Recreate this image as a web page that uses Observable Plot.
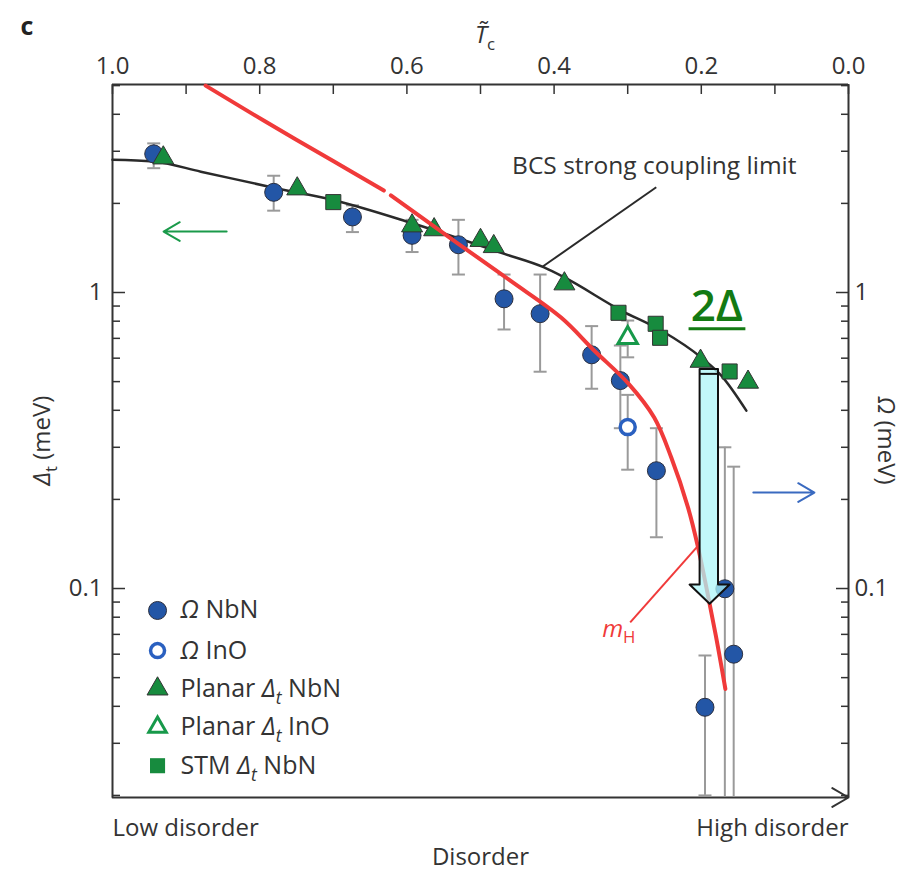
<!DOCTYPE html>
<html><head><meta charset="utf-8">
<script src="https://cdn.jsdelivr.net/npm/d3@7"></script>
<script src="https://cdn.jsdelivr.net/npm/@observablehq/plot@0.6"></script>
<style>
html,body{margin:0;padding:0;background:#fff;}
</style></head><body><div id="chart"></div>
<script>
// ---------- data (x = normalised Tc, y = energy in meV) ----------
const omegaNbN_tc  = [0.944, 0.781, 0.674, 0.593, 0.530, 0.468, 0.419, 0.349, 0.310, 0.261, 0.195, 0.168, 0.156];
const omegaNbN_meV = [2.94, 2.18, 1.80, 1.56, 1.45, 0.952, 0.848, 0.616, 0.504, 0.250, 0.0397, 0.0998, 0.0600];
const omegaNbN_lo  = [2.63, 1.89, 1.60, 1.37, 1.15, 0.75, 0.54, 0.473, 0.348, 0.149, 0.0200, 0.0197, 0.0197];
const omegaNbN_hi  = [3.19, 2.48, 1.97, 1.76, 1.76, 1.15, 1.15, 0.77, 0.662, 0.348, 0.0594, 0.300, 0.258];

const omegaInO_tc  = [0.300];
const omegaInO_meV = [0.351];
const omegaInO_lo  = [0.252];
const omegaInO_hi  = [0.451];

const planarNbN_tc  = [0.931, 0.749, 0.593, 0.563, 0.500, 0.482, 0.386, 0.201, 0.1365];
const planarNbN_meV = [2.85, 2.24, 1.68, 1.63, 1.50, 1.43, 1.07, 0.586, 0.498];

const planarInO_tc  = [0.300];
const planarInO_meV = [0.703];
const planarInO_lo  = [0.604];
const planarInO_hi  = [0.804];

const stmNbN_tc  = [0.700, 0.3125, 0.262, 0.256, 0.1615];
const stmNbN_meV = [2.02, 0.854, 0.784, 0.703, 0.541];

const bcs_tc  = [1.0, 0.944, 0.880, 0.781, 0.699, 0.5946, 0.4676, 0.4136, 0.386, 0.3088, 0.2544, 0.200, 0.1728, 0.1388];
const bcs_meV = [2.81, 2.77, 2.56, 2.26, 2.05, 1.72, 1.35, 1.215, 1.124, 0.869, 0.744, 0.603, 0.524, 0.399];

const mH_tc  = [0.8735, 0.7946, 0.699, 0.6313, 0.6218, 0.5306, 0.4585, 0.3905, 0.3456, 0.2993, 0.264, 0.2408, 0.2181, 0.2045, 0.1887, 0.1773, 0.1673];
const mH_meV = [5.0, 3.81, 2.77, 2.21, 2.13, 1.464, 1.092, 0.823, 0.637, 0.493, 0.378, 0.277, 0.188, 0.138, 0.0888, 0.0633, 0.0458];
const mH_seg = [0, 0, 0, 0, 1, 1, 1, 1, 1, 1, 1, 1, 1, 1, 1, 1, 1];

// axes
const tcDomain = [1, 0];
const meVDomain = [0.01968, 5.043];
const tcTickLabels = [0, 0.2, 0.4, 0.6, 0.8, 1.0];
const tcTicks = [0, 0.1, 0.2, 0.3, 0.4, 0.5, 0.6, 0.7, 0.8, 0.9, 1.0];
const meVMajor = [0.1, 1];
const meVMinor = [0.02, 0.03, 0.04, 0.05, 0.06, 0.07, 0.08, 0.09, 0.2, 0.3, 0.4, 0.5, 0.6, 0.7, 0.8, 0.9, 2, 3, 4, 5];

// legend
const legendLabels = ["*Ω* NbN", "*Ω* InO", "Planar *Δ*_[t] NbN", "Planar *Δ*_[t] InO", "STM *Δ*_[t] NbN"];
const legend_tc = 0.9388, legendText_tc = 0.9075;
const legend_meV = [0.0843, 0.0617, 0.0458, 0.0340, 0.0252];

// annotations (in data units)
const arrowPoly_tc  = [0.2023, 0.1773, 0.1773, 0.1615, 0.1887, 0.2159, 0.2023, 0.2023];
const arrowPoly_meV = [0.552, 0.552, 0.1031, 0.1031, 0.0888, 0.1031, 0.1031, 0.552];

// ---------- build tables ----------
const rows = (t, v, lo, hi) => t.map((d, i) => ({t: d, v: v[i], lo: lo ? lo[i] : null, hi: hi ? hi[i] : null}));
const omegaNbN = rows(omegaNbN_tc, omegaNbN_meV, omegaNbN_lo, omegaNbN_hi);
const omegaInO = rows(omegaInO_tc, omegaInO_meV, omegaInO_lo, omegaInO_hi);
const planarNbN = rows(planarNbN_tc, planarNbN_meV);
const planarInO = rows(planarInO_tc, planarInO_meV, planarInO_lo, planarInO_hi);
const stmNbN = rows(stmNbN_tc, stmNbN_meV);
const bcs = rows(bcs_tc, bcs_meV);
const mH = mH_tc.map((d, i) => ({t: d, v: mH_meV[i], seg: mH_seg[i]}));
const errs = [...omegaNbN, ...omegaInO, ...planarInO];
const capsHi = errs;
const capsLo = errs.filter(d => d.lo > 0.0198);
const arrowPoly = arrowPoly_tc.map((d, i) => ({t: d, v: arrowPoly_meV[i]}));
const legendRows = legendLabels.map((s, i) => ({label: s, v: legend_meV[i], k: i}));

const BLUE = "#2356a6", GREEN = "#178b3e", RED = "#f03a3a", INK = "#333", GREY = "#9a9a9a";
const FS = 24;
const capSymbol = {draw(ctx, size) { const w = Math.sqrt(size / Math.PI); ctx.moveTo(-w, 0); ctx.lineTo(w, 0); }};
const none = () => "";

const chart = Plot.plot({
  width: 904, height: 872,
  marginLeft: 112, marginRight: 56, marginTop: 84, marginBottom: 75,
  x: {domain: tcDomain, axis: null},
  y: {type: "log", domain: meVDomain, axis: null},
  style: {fontFamily: "'Open Sans', sans-serif", fontSize: FS + "px", color: INK, background: "#fff", overflow: "visible"},
  marks: [
    // frame
    Plot.ruleY([meVDomain[1]], {stroke: INK, strokeWidth: 2}),
    Plot.ruleX(tcDomain, {stroke: INK, strokeWidth: 2}),
    Plot.arrow([{a: tcDomain[0], b: tcDomain[1], y: meVDomain[0]}], {x1: "a", x2: "b", y1: "y", y2: "y", stroke: INK, strokeWidth: 2, headLength: 14}),
    // ticks (marks only)
    Plot.axisX(tcTicks, {anchor: "top", tickSize: -9, tickFormat: none, label: null, stroke: INK, strokeWidth: 1.5}),
    Plot.axisY(meVMajor, {anchor: "left", tickSize: -13, tickFormat: none, label: null, stroke: INK, strokeWidth: 1.5}),
    Plot.axisY(meVMinor, {anchor: "left", tickSize: -8, tickFormat: none, label: null, stroke: INK, strokeWidth: 1.5}),
    Plot.axisY(meVMajor, {anchor: "right", tickSize: -13, tickFormat: none, label: null, stroke: INK, strokeWidth: 1.5}),
    Plot.axisY(meVMinor, {anchor: "right", tickSize: -8, tickFormat: none, label: null, stroke: INK, strokeWidth: 1.5}),
    // tick labels
    Plot.axisX(tcTickLabels, {anchor: "top", tickSize: 0, tickPadding: 11, tickFormat: d => d.toFixed(1), label: null, fontSize: FS, fill: INK}),
    Plot.axisY(meVMajor, {anchor: "left", tickSize: 0, tickPadding: 10, tickFormat: d => String(d), label: null, fontSize: FS, fill: INK}),
    Plot.axisY(meVMajor, {anchor: "right", tickSize: 0, tickPadding: 6, tickFormat: d => String(d), label: null, fontSize: FS, fill: INK}),
    // error bars
    Plot.ruleX(errs, {x: "t", y1: "lo", y2: "hi", stroke: GREY, strokeWidth: 2}),
    Plot.dot(capsHi, {x: "t", y: "hi", symbol: capSymbol, r: 6.5, stroke: GREY, strokeWidth: 2}),
    Plot.dot(capsLo, {x: "t", y: "lo", symbol: capSymbol, r: 6.5, stroke: GREY, strokeWidth: 2}),
    // BCS line + leader
    Plot.line(bcs, {x: "t", y: "v", curve: "monotone-x", stroke: "#2a2a2a", strokeWidth: 2.5}),
    Plot.link([{t1: 0.4154, v1: 1.224, t2: 0.2612, v2: 2.268}], {x1: "t1", y1: "v1", x2: "t2", y2: "v2", stroke: "#2a2a2a", strokeWidth: 2}),
    Plot.text(["BCS strong coupling limit"], {x: 0.4571, y: 2.52, textAnchor: "start", lineAnchor: "bottom", fontSize: 24.5, fill: INK}),
    // markers
    Plot.dot(omegaNbN, {x: "t", y: "v", r: 9, fill: BLUE, stroke: "#2b2f3f", strokeWidth: 1}),
    Plot.dot(omegaInO, {x: "t", y: "v", r: 7.5, fill: "#fff", stroke: "#2a60c0", strokeWidth: 3.5}),
    Plot.dot(planarNbN, {x: "t", y: "v", symbol: "triangle", r: 7.8, fill: GREEN, stroke: INK, strokeWidth: 1}),
    Plot.dot(planarInO, {x: "t", y: "v", symbol: "triangle", r: 7.2, fill: "#fff", stroke: "#17994a", strokeWidth: 3}),
    Plot.dot(stmNbN, {x: "t", y: "v", symbol: "square", r: 8.5, fill: GREEN, stroke: INK, strokeWidth: 1}),
    // m_H curve + leader
    Plot.line(mH, {x: "t", y: "v", z: "seg", curve: "catmull-rom", stroke: RED, strokeWidth: 4}),
    Plot.link([{t1: 0.2966, v1: 0.0769, t2: 0.2054, v2: 0.1386}], {x1: "t1", y1: "v1", x2: "t2", y2: "v2", stroke: RED, strokeWidth: 2}),
    Plot.text(["*m*_{H}"], {x: 0.3347, y: 0.0688, textAnchor: "start", lineAnchor: "bottom", fontSize: 24, fill: RED}),
    // direction arrows
    Plot.arrow([{a: 0.8449, b: 0.9306, y: 1.607}], {x1: "a", x2: "b", y1: "y", y2: "y", stroke: "#1a9a4a", strokeWidth: 2, headLength: 14}),
    Plot.arrow([{a: 0.1293, b: 0.0463, y: 0.211}], {x1: "a", x2: "b", y1: "y", y2: "y", stroke: "#3a6ac0", strokeWidth: 2, headLength: 14}),
    // legend
    Plot.dot(legendRows.filter(d => d.k === 0), {x: () => legend_tc, y: "v", r: 9, fill: BLUE, stroke: "#2b2f3f", strokeWidth: 1}),
    Plot.dot(legendRows.filter(d => d.k === 1), {x: () => legend_tc, y: "v", r: 7, fill: "#fff", stroke: "#2a60c0", strokeWidth: 3.5}),
    Plot.dot(legendRows.filter(d => d.k === 2), {x: () => legend_tc, y: "v", symbol: "triangle", r: 7.8, fill: GREEN, stroke: INK, strokeWidth: 1}),
    Plot.dot(legendRows.filter(d => d.k === 3), {x: () => legend_tc, y: "v", symbol: "triangle", r: 6.5, fill: "#fff", stroke: "#17994a", strokeWidth: 3}),
    Plot.dot(legendRows.filter(d => d.k === 4), {x: () => legend_tc, y: "v", symbol: "square", r: 8.5, fill: GREEN}),
    Plot.text(legendRows, {x: () => legendText_tc, y: "v", text: "label", textAnchor: "start", fontSize: 25, fill: INK}),
    // overlay 2Δ arrow annotation
    Plot.line(arrowPoly, {x: "t", y: "v", fill: "#aef6f8", fillOpacity: 0.75, stroke: "#111", strokeWidth: 2}),
    Plot.link([{t1: 0.2023, t2: 0.1773, v: 0.531}], {x1: "t1", x2: "t2", y1: "v", y2: "v", stroke: "#111", strokeWidth: 2}),
    Plot.text(["2Δ"], {x: 0.1789, y: 0.804, lineAnchor: "bottom", fontSize: 44, fontWeight: 600, fill: "#137a13"}),
    Plot.link([{t1: 0.2173, t2: 0.1401, v: 0.754}], {x1: "t1", x2: "t2", y1: "v", y2: "v", stroke: "#137a13", strokeWidth: 3}),
    // outer texts
    Plot.text(["c"], {x: 1.125, y: 7.86, textAnchor: "start", fontSize: 25, fontWeight: "bold", fill: "#222"}),
    Plot.text(["*T̃*_{c}"], {x: 0.494, y: 6.94, lineAnchor: "bottom", fontSize: 24, fill: INK}),
    Plot.text(["*Δ*_{t} (meV)"], {x: 1.0952, y: 0.316, rotate: -90, fontSize: FS, fill: INK}),
    Plot.text(["*Ω* (meV)"], {x: -0.0503, y: 0.316, rotate: 90, fontSize: FS, fill: INK}),
    Plot.text(["Low disorder"], {x: 1.0, y: 0.01546, textAnchor: "start", fontSize: FS, fill: INK}),
    Plot.text(["High disorder"], {x: 0.0, y: 0.01546, textAnchor: "end", fontSize: FS, fill: INK}),
    Plot.text(["Disorder"], {x: 0.5, y: 0.01234, fontSize: FS, fill: INK})
  ]
});
document.getElementById("chart").appendChild(chart);

// rich text: *x* italic, _{x} upright subscript, _[x] italic subscript
d3.select(chart).selectAll("text").each(function () {
  const s = this.textContent;
  if (!/\*|_\{|_\[/.test(s)) return;
  const base = parseFloat(getComputedStyle(this).fontSize) || FS;
  const parts = s.split(/(\*[^*]+\*|_\{[^}]+\}|_\[[^\]]+\])/).filter(p => p);
  this.textContent = "";
  const sel = d3.select(this);
  let shifted = false;
  const shift = base * 0.28;
  for (const p of parts) {
    const ts = sel.append("tspan");
    if (p.startsWith("_")) {
      ts.text(p.slice(2, -1)).attr("font-size", base * 0.7).attr("dy", shift);
      if (p[1] === "[") ts.attr("font-style", "italic");
      shifted = true;
    } else {
      if (shifted) { ts.attr("dy", -shift); shifted = false; }
      if (p.startsWith("*")) ts.text(p.slice(1, -1)).attr("font-style", "italic");
      else ts.text(p);
    }
  }
});
</script>
</body></html>
